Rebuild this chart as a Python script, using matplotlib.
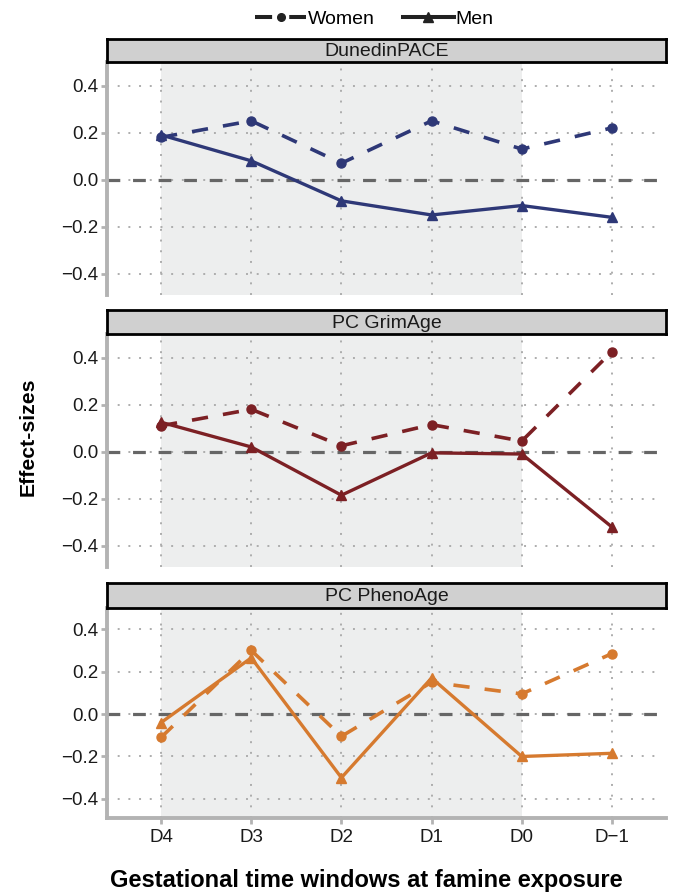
import matplotlib
matplotlib.use('Agg')
import matplotlib.pyplot as plt
from matplotlib.lines import Line2D

plt.rcParams['font.family'] = ['Liberation Sans', 'DejaVu Sans']

windows = ['D4', 'D3', 'D2', 'D1', 'D0', 'D\u22121']
panels = ['DunedinPACE', 'PC GrimAge', 'PC PhenoAge']
women_dunedin = [0.18, 0.25, 0.07, 0.25, 0.13, 0.22]
men_dunedin = [0.19, 0.08, -0.09, -0.15, -0.11, -0.16]
women_grim = [0.11, 0.18, 0.025, 0.115, 0.045, 0.425]
men_grim = [0.125, 0.02, -0.185, -0.005, -0.01, -0.32]
women_pheno = [-0.11, 0.30, -0.105, 0.15, 0.095, 0.285]
men_pheno = [-0.04, 0.265, -0.30, 0.17, -0.20, -0.185]
women = [women_dunedin, women_grim, women_pheno]
men = [men_dunedin, men_grim, men_pheno]
colors = ['#2e3877', '#7c2024', '#d67a2f']
y_ticks = [0.4, 0.2, 0.0, -0.2, -0.4]
y_tick_labels = ['0.4', '0.2', '0.0', '\u22120.2', '\u22120.4']
shade_from, shade_to = 'D4', 'D0'

W, H = 675, 892
fig = plt.figure(figsize=(W / 100, H / 100), dpi=100)

left, right = 107, 666
layout = [(62, 295, 39), (334, 567, 310), (608, 818, 583)]
spine_col = '#b3b3b3'
grid_col = '#adadad'
x = list(range(len(windows)))

for i, (top, bot, stop) in enumerate(layout):
    ax = fig.add_axes([left / W, 1 - bot / H, (right - left) / W, (bot - top) / H])
    ax.set_xlim(-0.6, len(windows) - 0.4)
    ax.set_ylim(-0.49, 0.50)
    ax.axvspan(windows.index(shade_from), windows.index(shade_to), color='#edeeee', lw=0, zorder=0)
    for yt in y_ticks:
        ax.axhline(yt, xmax=0.99, color=grid_col, lw=1.4, ls=(0, (1, 4.5)), zorder=1)
    for xt in x:
        ax.axvline(xt, color=grid_col, lw=1.4, ls=(0, (1, 4.5)), zorder=1)
    ax.axhline(0, color='#666666', lw=2.3, ls=(0, (4, 4)), zorder=2)
    c = colors[i]
    ax.plot(x, women[i], color=c, lw=2.6, ls=(0, (4.5, 4.2)), marker='o', ms=6.5, zorder=4)
    ax.plot(x, men[i], color=c, lw=2.4, ls='-', marker='^', ms=7.5, zorder=5)
    ax.set_yticks(y_ticks)
    ax.set_yticklabels(y_tick_labels, fontsize=13.5, color='#1a1a1a')
    ax.set_xticks(x)
    for s in ['top', 'right']:
        ax.spines[s].set_visible(False)
    ax.spines['left'].set_color(spine_col)
    ax.spines['left'].set_linewidth(2.8)
    if i == 2:
        ax.spines['bottom'].set_color(spine_col)
        ax.spines['bottom'].set_linewidth(2.8)
        ax.set_xticklabels(windows, fontsize=13.5, color='#1a1a1a')
        ax.tick_params(axis='x', length=4, width=2, color=spine_col, pad=4)
    else:
        ax.spines['bottom'].set_visible(False)
        ax.tick_params(axis='x', length=0, labelbottom=False)
    ax.tick_params(axis='y', length=4, width=2, color=spine_col, pad=2)
    ax.set_facecolor('white')

    # strip
    sax = fig.add_axes([left / W, 1 - top / H, (right - left) / W, (top - stop) / H])
    sax.set_facecolor('#d0d0d0')
    sax.set_xticks([])
    sax.set_yticks([])
    for s in sax.spines.values():
        s.set_color('black')
        s.set_linewidth(2.0)
    sax.text(0.5, 0.45, panels[i], ha='center', va='center', fontsize=14,
             color='#1a1a1a', transform=sax.transAxes)

fig.text(28 / W, 1 - 437 / H, 'Effect-sizes', rotation=90, ha='center', va='center',
         fontsize=15.3, fontweight='bold')
fig.text(366 / W, 1 - 880 / H, 'Gestational time windows at famine exposure', ha='center',
         va='center', fontsize=17, fontweight='bold')

handles = [Line2D([], [], color='#222222', lw=2.9, ls=(0, (4.25, 4.25)), marker='o', ms=5.5),
           Line2D([], [], color='#222222', lw=2.9, ls='-', marker='^', ms=7)]
fig.legend(handles, ['Women', 'Men'], loc='center', bbox_to_anchor=(374.5 / W, 1 - 19 / H),
           ncol=2, frameon=False, fontsize=14, handlelength=2.62, handletextpad=0.1,
           columnspacing=1.44)

fig.savefig('out.png', dpi=100)
